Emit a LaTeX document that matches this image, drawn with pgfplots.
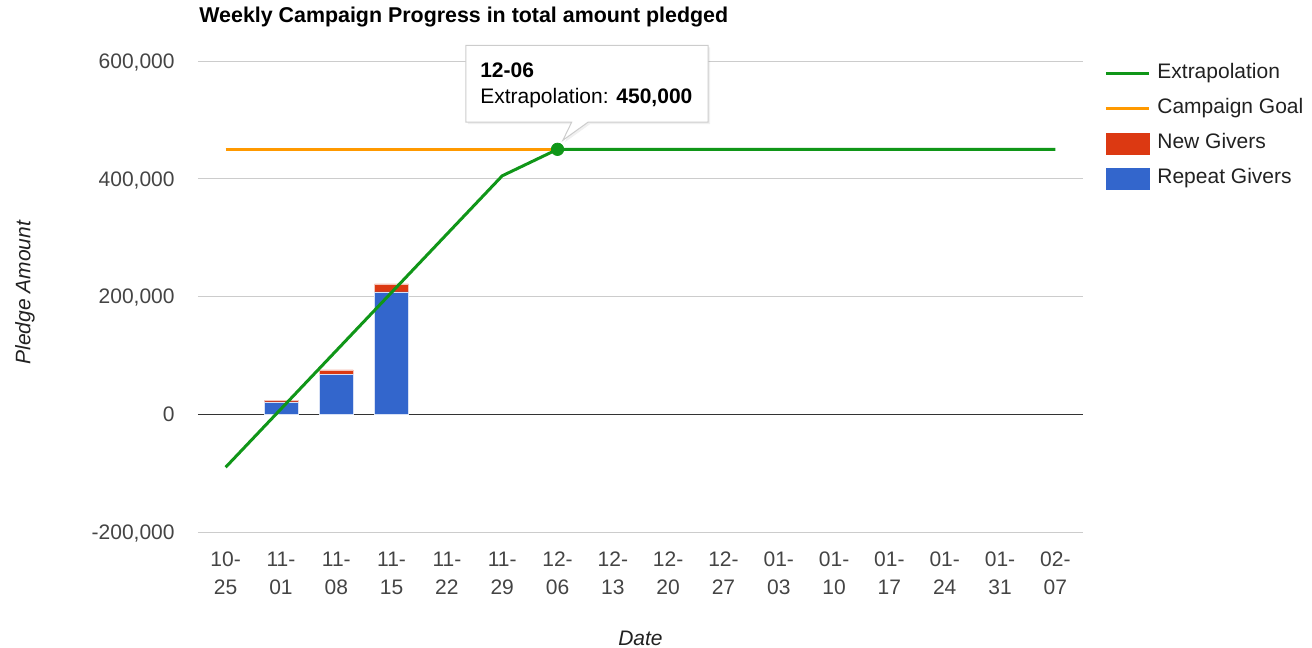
\documentclass[border=0pt]{standalone}
\usepackage{fontspec}
\setmainfont{Liberation Sans}
\usepackage{pgfplots}
\pgfplotsset{compat=1.18}
\usetikzlibrary{shadows}

\definecolor{gblue}{HTML}{3366CC}
\definecolor{gred}{HTML}{DC3912}
\definecolor{gorange}{HTML}{FF9900}
\definecolor{ggreen}{HTML}{109618}
\definecolor{ggrid}{HTML}{CCCCCC}
\definecolor{gzero}{HTML}{333333}
\definecolor{gtext}{HTML}{444444}
\definecolor{gtip}{HTML}{CCCCCC}

\newcommand\fs{\fontsize{10.5bp}{14bp}\selectfont}

\pgfplotsset{
  gbase/.style={
    width=442.5bp, height=235.5bp, scale only axis,
    at={(0,0)}, anchor=south west,
    xmin=-0.5, xmax=15.5, ymin=-200000, ymax=600000,
  },
  glegline/.style={legend image code/.code={\draw[##1] (0bp,0bp) -- (21.5bp,0bp);}},
  glegbox/.style={legend image code/.code={\fill[##1] (0bp,-5.25bp) rectangle (21.5bp,5.25bp);}},
}

\begin{document}
\begin{tikzpicture}
% bars, grid and labels
\begin{axis}[
  gbase,
  ybar stacked, bar width=0.61,
  axis line style={draw=none},
  major tick length=0pt,
  scaled y ticks=false,
  ytick={-200000,0,200000,400000,600000},
  yticklabels={{-200,000},{0},{200,000},{400,000},{600,000}},
  xtick={0,...,15},
  xticklabels={{10-\\25},{11-\\01},{11-\\08},{11-\\15},{11-\\22},{11-\\29},
    {12-\\06},{12-\\13},{12-\\20},{12-\\27},{01-\\03},{01-\\10},{01-\\17},
    {01-\\24},{01-\\31},{02-\\07}},
  ymajorgrids,
  grid style={ggrid, line width=0.5bp},
  extra y ticks={0}, extra y tick labels={},
  extra y tick style={grid style={gzero, line width=0.6bp}},
  tick label style={font=\fs, text=gtext},
  xticklabel style={align=center, inner sep=0pt, anchor=north, yshift=-9.7bp},
  yticklabel style={anchor=east, inner sep=0pt, text depth=0pt, xshift=-11.5bp},
  xlabel={Date},
  xlabel style={font=\fs\itshape, text=black!87, inner sep=0pt,
    at={(axis description cs:0.5,-0.225)}, anchor=center},
  ylabel={Pledge Amount},
  ylabel style={font=\fs\itshape, text=black!87, inner sep=0pt,
    at={(axis description cs:-0.1955,0.508)}, anchor=center},
]
\addplot[fill=gblue, draw=white!80!gblue, line width=0.25bp] coordinates {
  (1,21000) (2,68000) (3,208000)
};
\addplot[fill=gred, draw=white!70!gred, line width=0.25bp] coordinates {
  (1,3000) (2,7500) (3,13500)
};
\end{axis}

% lines, legend and tooltip
\begin{axis}[
  gbase,
  axis lines=none, ticks=none, clip=false,
  legend cell align=left,
  legend style={at={(1,1)}, anchor=north west, xshift=10.5bp, yshift=2.75bp,
    draw=none, fill=none, inner sep=0pt, row sep=0pt,
    font=\fs, text=black!87,
    nodes={text height=8bp, text depth=2.5bp, inner sep=3.5bp}},
]
\addplot[gorange, line width=1.25bp, forget plot] coordinates {
  (0,450000) (1,450000) (2,450000) (3,450000) (4,450000) (5,450000)
  (6,450000) (7,450000) (8,450000) (9,450000) (10,450000) (11,450000)
  (12,450000) (13,450000) (14,450000) (15,450000)
};
\addplot[ggreen, line width=1.5bp, forget plot] coordinates {
  (0,-90000) (1,9000) (2,108000) (3,207000) (4,306000) (5,405000)
  (6,450000) (7,450000) (8,450000) (9,450000) (10,450000) (11,450000)
  (12,450000) (13,450000) (14,450000) (15,450000)
};
\addplot[only marks, mark=*, mark size=3.1bp, ggreen, forget plot] coordinates {
  (6,450000)
};
\addlegendimage{glegline, ggreen, line width=1.5bp}
\addlegendentry{Extrapolation}
\addlegendimage{glegline, gorange, line width=1.25bp}
\addlegendentry{Campaign Goal}
\addlegendimage{glegbox, gred}
\addlegendentry{New Givers}
\addlegendimage{glegbox, gblue}
\addlegendentry{Repeat Givers}

% tooltip
\draw[gtip, fill=white, line width=0.5bp,
  drop shadow={opacity=0.12, shadow xshift=1bp, shadow yshift=-1bp}]
  (axis cs:4.342,626750) -- (axis cs:8.721,626750) -- (axis cs:8.721,496000)
  -- (axis cs:6.55,496000) -- (axis cs:6.097,465400) -- (axis cs:6.255,496000)
  -- (axis cs:4.342,496000) -- cycle;
\node[anchor=base west, inner sep=0pt, font=\fs\bfseries] at (axis cs:4.596,572400) {12-06};
\node[anchor=base west, inner sep=0pt, font=\fs] at (axis cs:4.596,528300)
  {Extrapolation: \textbf{450,000}};
\end{axis}

\node[anchor=base west, inner sep=0pt, font=\fontsize{10.7bp}{12.8bp}\selectfont\bfseries]
  at (0.5bp,254.7bp) {Weekly Campaign Progress in total amount pledged};

\pgfresetboundingbox
\useasboundingbox (-99bp,-58bp) rectangle (557bp,266bp);
\end{tikzpicture}
\end{document}
